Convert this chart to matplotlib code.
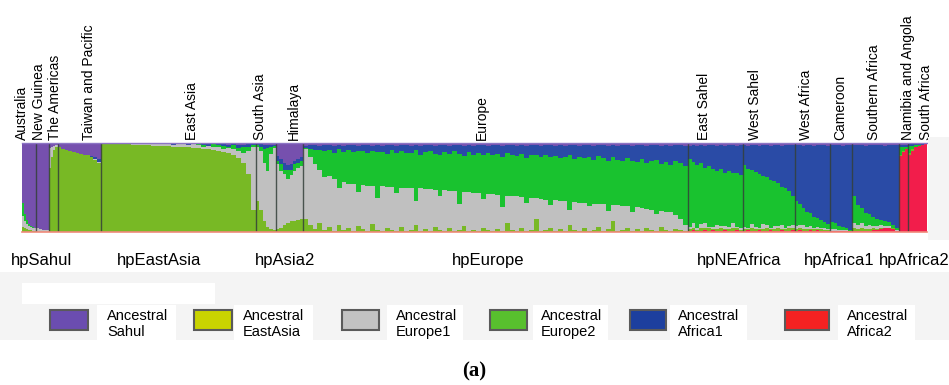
import numpy as np
import matplotlib
matplotlib.use("Agg")
import matplotlib.pyplot as plt
from matplotlib.patches import Rectangle
from matplotlib.transforms import blended_transform_factory

# ancestral components, stacked bottom -> top
components = ["africa2", "eastasia", "europe1", "europe2", "africa1", "sahul"]
bar_colors = {"africa2": "#f21d4b", "eastasia": "#78b925", "europe1": "#c0c0c0",
              "europe2": "#19c22f", "africa1": "#2a4ba6", "sahul": "#7650ae"}

legend_names = ["Ancestral\nSahul", "Ancestral\nEastAsia", "Ancestral\nEurope1",
                "Ancestral\nEurope2", "Ancestral\nAfrica1", "Ancestral\nAfrica2"]
legend_colors = ["#6b4db0", "#c9d300", "#c2c2c2", "#58c02e", "#1d3f9e", "#f42222"]

regions = ["Australia", "New Guinea", "The Americas", "Taiwan and Pacific", "East Asia",
           "South Asia", "Himalaya", "Europe", "East Sahel", "West Sahel", "West Africa",
           "Cameroon", "Southern Africa", "Namibia and Angola", "South Africa"]
region_sizes = [14, 13, 9, 43, 155, 20, 27, 384, 55, 52, 35, 22, 47, 9, 19]

group_labels = ["hpSahul", "hpEastAsia", "hpAsia2", "hpEurope", "hpNEAfrica", "hpAfrica1", "hpAfrica2"]

# ---- per-region ancestry fractions (one value per sampled strain) ----
aus_eastasia = [0.06, 0.04, 0.03, 0.02, 0.02, 0.01, 0.01]
aus_europe1 = [0.12, 0.08, 0.06, 0.05, 0.04, 0.04, 0.03]
aus_europe2 = [0.15, 0.08, 0.04, 0.02, 0.01, 0.01, 0.0]

ng_europe1 = [0.05, 0.03, 0.02, 0.02]

am_europe1 = [0.22, 0.12, 0.05, 0.02]
am_sahul = [0.06, 0.04, 0.03, 0.02]

tw_sahul = [0.05, 0.07, 0.08, 0.09, 0.10, 0.11, 0.12, 0.13, 0.14, 0.15, 0.16, 0.18]
tw_africa1 = [0, 0, 0, 0, 0, 0, 0, 0, 0, 0.01, 0.02, 0.03]
tw_europe1 = [0, 0, 0, 0, 0, 0, 0, 0, 0, 0, 0.01, 0.02]

ea_eastasia = [0.99, 0.99, 0.99, 0.99, 0.985, 0.985, 0.98, 0.98, 0.98, 0.975, 0.97,
               0.97, 0.965, 0.965, 0.96, 0.955, 0.955, 0.95, 0.945, 0.94, 0.935,
               0.93, 0.925, 0.915, 0.90, 0.89, 0.87, 0.83, 0.78, 0.65, 0.25]
ea_europe2 = [0, 0, 0, 0, 0, 0, 0, 0, 0, 0, 0, 0, 0, 0, 0, 0, 0, 0, 0, 0.01, 0.02,
              0, 0.03, 0.02, 0.04, 0.01, 0.05, 0.03, 0.07, 0.05, 0.02]
ea_africa1 = [0, 0, 0, 0, 0, 0, 0, 0, 0.005, 0, 0, 0.01, 0, 0, 0.01, 0, 0, 0.01, 0, 0,
              0.01, 0.02, 0, 0.01, 0.02, 0.03, 0.01, 0.04, 0.02, 0.03, 0.01]
ea_sahul = [0.005, 0.005, 0.01, 0.005, 0.01, 0.005, 0.01, 0.01, 0.005, 0.01, 0.01,
            0.005, 0.01, 0.01, 0.01, 0.01, 0.005, 0.01, 0.01, 0.01, 0.01, 0.01, 0.01,
            0.01, 0.01, 0.02, 0.01, 0.02, 0.02, 0.01, 0.01]

sa_eastasia = [0.35, 0.25, 0.12, 0.06, 0.03, 0.02]
sa_europe2 = [0.02, 0.05, 0.15, 0.25, 0.08, 0.03]
sa_africa1 = [0.01, 0.03, 0.05, 0.04, 0.02, 0.01]
sa_sahul = [0.01, 0.01, 0.02, 0.02, 0.02, 0.02]

him_eastasia = [0.03, 0.05, 0.08, 0.10, 0.12, 0.12, 0.14, 0.15]
him_europe2 = [0.04, 0.08, 0.05, 0.10, 0.06, 0.08, 0.05, 0.06]
him_africa1 = [0.05, 0.06, 0.08, 0.05, 0.06, 0.04, 0.05, 0.04]
him_sahul = [0.15, 0.18, 0.22, 0.25, 0.24, 0.20, 0.18, 0.16]

eu_eastasia = [0.15, 0.08, 0.03, 0.10, 0.02, 0.06, 0.01, 0.08, 0.02, 0.05,
               0.01, 0.07, 0.03, 0.01, 0.09, 0.02, 0.01, 0.05, 0.02, 0.01,
               0.06, 0.01, 0.02, 0.08, 0.01, 0.03, 0.01, 0.06, 0.02, 0.01,
               0.04, 0.01, 0.02, 0.07, 0.01, 0.02, 0.01, 0.05, 0.02, 0.01,
               0.03, 0.01, 0.10, 0.02, 0.01, 0.04, 0.01, 0.02, 0.15, 0.01,
               0.02, 0.05, 0.01, 0.03, 0.01, 0.08, 0.02, 0.01, 0.04, 0.01,
               0.02, 0.06, 0.01, 0.03, 0.12, 0.01, 0.02, 0.05, 0.01, 0.03,
               0.01, 0.04, 0.02, 0.01, 0.06, 0.02, 0.01, 0.03, 0.02, 0.01]
eu_europe1 = [0.78, 0.76, 0.73, 0.60, 0.60, 0.57, 0.58, 0.42, 0.54, 0.49,
              0.53, 0.38, 0.50, 0.51, 0.43, 0.36, 0.51, 0.46, 0.49, 0.43,
              0.44, 0.49, 0.47, 0.27, 0.48, 0.45, 0.47, 0.41, 0.38, 0.46,
              0.42, 0.45, 0.30, 0.38, 0.44, 0.42, 0.43, 0.32, 0.41, 0.42,
              0.39, 0.27, 0.31, 0.38, 0.39, 0.35, 0.32, 0.36, 0.23, 0.36,
              0.34, 0.25, 0.35, 0.32, 0.34, 0.17, 0.32, 0.32, 0.29, 0.28,
              0.30, 0.26, 0.30, 0.21, 0.18, 0.29, 0.27, 0.24, 0.21, 0.25,
              0.26, 0.22, 0.23, 0.19, 0.18, 0.21, 0.21, 0.16, 0.13, 0.07]
eu_africa1 = [0.03, 0.05, 0.06, 0.05, 0.07, 0.06, 0.08, 0.05, 0.07, 0.06,
              0.08, 0.06, 0.07, 0.09, 0.06, 0.08, 0.07, 0.10, 0.06, 0.08,
              0.07, 0.09, 0.08, 0.06, 0.10, 0.08, 0.07, 0.09, 0.11, 0.08,
              0.09, 0.07, 0.10, 0.12, 0.08, 0.10, 0.09, 0.11, 0.08, 0.12,
              0.10, 0.13, 0.09, 0.11, 0.12, 0.10, 0.14, 0.11, 0.12, 0.13,
              0.11, 0.14, 0.12, 0.15, 0.13, 0.12, 0.16, 0.13, 0.15, 0.14,
              0.16, 0.13, 0.15, 0.17, 0.14, 0.16, 0.18, 0.15, 0.17, 0.19,
              0.16, 0.20, 0.18, 0.17, 0.21, 0.19, 0.22, 0.18, 0.20, 0.23]
eu_sahul = [0.03, 0.02, 0.02, 0.03, 0.02, 0.02, 0.03, 0.02, 0.03, 0.02,
            0.02, 0.03, 0.02, 0.02, 0.03, 0.02, 0.03, 0.02, 0.02, 0.03,
            0.02, 0.02, 0.03, 0.02, 0.03, 0.02, 0.02, 0.03, 0.02, 0.02,
            0.03, 0.02, 0.02, 0.03, 0.02, 0.03, 0.02, 0.02, 0.03, 0.02,
            0.02, 0.03, 0.02, 0.02, 0.03, 0.02, 0.03, 0.02, 0.02, 0.03,
            0.02, 0.02, 0.03, 0.02, 0.03, 0.02, 0.02, 0.03, 0.02, 0.02,
            0.03, 0.02, 0.02, 0.03, 0.02, 0.03, 0.02, 0.02, 0.03, 0.02,
            0.02, 0.03, 0.02, 0.02, 0.03, 0.02, 0.03, 0.02, 0.02, 0.03]

es_africa2 = [0.01, 0.02, 0.01, 0.01, 0.02, 0.01, 0.02, 0.01, 0.01, 0.02, 0.01, 0.01, 0.02, 0.01]
es_eastasia = [0.02, 0.03, 0.01, 0.04, 0.02, 0.03, 0.01, 0.02, 0.04, 0.01, 0.02, 0.03, 0.02, 0.01]
es_europe1 = [0.03, 0.05, 0.02, 0.04, 0.06, 0.02, 0.03, 0.05, 0.02, 0.04, 0.03, 0.06, 0.02, 0.03]
es_africa1 = [0.15, 0.19, 0.22, 0.21, 0.25, 0.24, 0.27, 0.29, 0.27, 0.31, 0.30, 0.32, 0.31, 0.34]
es_sahul = [0.03, 0.02, 0.03, 0.02, 0.03, 0.02, 0.02, 0.03, 0.02, 0.03, 0.02, 0.02, 0.03, 0.02]

ws_africa2 = [0.01, 0.02, 0.01, 0.01, 0.02, 0.01, 0.01, 0.02, 0.01, 0.01, 0.02, 0.01, 0.01, 0.02]
ws_eastasia = [0.02, 0.01, 0.03, 0.02, 0.01, 0.02, 0.04, 0.01, 0.02, 0.03, 0.01, 0.02, 0.03, 0.02]
ws_europe1 = [0.03, 0.02, 0.05, 0.03, 0.02, 0.06, 0.03, 0.02, 0.04, 0.03, 0.05, 0.02, 0.03, 0.04]
ws_africa1 = [0.23, 0.26, 0.28, 0.31, 0.32, 0.35, 0.36, 0.39, 0.41, 0.43, 0.46, 0.48, 0.52, 0.58]
ws_sahul = [0.02, 0.03, 0.02, 0.02, 0.03, 0.02, 0.02, 0.03, 0.02, 0.02, 0.03, 0.02, 0.02, 0.02]

wa_africa2 = [0.01, 0.02, 0.01, 0.01, 0.02, 0.01, 0.02, 0.01, 0.01, 0.01]
wa_eastasia = [0.02, 0.03, 0.02, 0.02, 0.01, 0.02, 0.01, 0.02, 0.01, 0.01]
wa_europe1 = [0.04, 0.03, 0.05, 0.03, 0.04, 0.02, 0.03, 0.02, 0.02, 0.01]
wa_europe2 = [0.28, 0.24, 0.19, 0.16, 0.14, 0.12, 0.10, 0.08, 0.07, 0.06]
wa_sahul = [0.02, 0.02, 0.03, 0.02, 0.02, 0.03, 0.02, 0.02, 0.02, 0.03]

cam_africa2 = [0.01, 0.01, 0.01, 0.01, 0.01, 0.01]
cam_europe1 = [0.02, 0.02, 0.01, 0.01, 0.01, 0.0]
cam_europe2 = [0.08, 0.07, 0.05, 0.04, 0.02, 0.01]
cam_sahul = [0.02, 0.02, 0.02, 0.03, 0.02, 0.02]

saf_africa2 = [0.01, 0.01, 0.01, 0.01, 0.01, 0.02, 0.02, 0.03, 0.04, 0.04, 0.03, 0.01]
saf_eastasia = [0.03, 0.02, 0.03, 0.02, 0.02, 0.02, 0.01, 0.02, 0.01, 0.01, 0.01, 0.0]
saf_europe1 = [0.06, 0.05, 0.06, 0.04, 0.05, 0.03, 0.04, 0.03, 0.02, 0.02, 0.01, 0.01]
saf_europe2 = [0.30, 0.22, 0.17, 0.14, 0.12, 0.10, 0.08, 0.06, 0.05, 0.04, 0.03, 0.02]
saf_sahul = [0.02, 0.02, 0.02, 0.03, 0.02, 0.02, 0.02, 0.02, 0.03, 0.02, 0.02, 0.02]

nam_eastasia = [0.02, 0.01, 0.0]
nam_europe2 = [0.08, 0.05, 0.03]
nam_africa1 = [0.03, 0.02, 0.02]
nam_sahul = [0.02, 0.02, 0.02]

sar_eastasia = [0.03, 0.02, 0.01, 0.0, 0.0, 0.0]
sar_europe2 = [0.08, 0.04, 0.02, 0.01, 0.0, 0.0]
sar_africa1 = [0.02, 0.02, 0.01, 0.01, 0.01, 0.0]
sar_sahul = [0.01, 0.01, 0.01, 0.01, 0.01, 0.01]

# (fill component = remainder up to 1, given components)
region_q = [
    ("sahul", {"eastasia": aus_eastasia, "europe1": aus_europe1, "europe2": aus_europe2}),
    ("sahul", {"europe1": ng_europe1}),
    ("eastasia", {"europe1": am_europe1, "sahul": am_sahul}),
    ("eastasia", {"europe1": tw_europe1, "africa1": tw_africa1, "sahul": tw_sahul}),
    ("europe1", {"eastasia": ea_eastasia, "europe2": ea_europe2, "africa1": ea_africa1, "sahul": ea_sahul}),
    ("europe1", {"eastasia": sa_eastasia, "europe2": sa_europe2, "africa1": sa_africa1, "sahul": sa_sahul}),
    ("europe1", {"eastasia": him_eastasia, "europe2": him_europe2, "africa1": him_africa1, "sahul": him_sahul}),
    ("europe2", {"eastasia": eu_eastasia, "europe1": eu_europe1, "africa1": eu_africa1, "sahul": eu_sahul}),
    ("europe2", {"africa2": es_africa2, "eastasia": es_eastasia, "europe1": es_europe1, "africa1": es_africa1, "sahul": es_sahul}),
    ("europe2", {"africa2": ws_africa2, "eastasia": ws_eastasia, "europe1": ws_europe1, "africa1": ws_africa1, "sahul": ws_sahul}),
    ("africa1", {"africa2": wa_africa2, "eastasia": wa_eastasia, "europe1": wa_europe1, "europe2": wa_europe2, "sahul": wa_sahul}),
    ("africa1", {"africa2": cam_africa2, "europe1": cam_europe1, "europe2": cam_europe2, "sahul": cam_sahul}),
    ("africa1", {"africa2": saf_africa2, "eastasia": saf_eastasia, "europe1": saf_europe1, "europe2": saf_europe2, "sahul": saf_sahul}),
    ("africa2", {"eastasia": nam_eastasia, "europe2": nam_europe2, "africa1": nam_africa1, "sahul": nam_sahul}),
    ("africa2", {"eastasia": sar_eastasia, "europe2": sar_europe2, "africa1": sar_africa1, "sahul": sar_sahul}),
]

# layout (figure pixels / data units)
label_x = [0, 17, 33.5, 67.5, 170, 238.5, 272, 460, 681, 732.5, 783.5, 817.5, 851.5, 885.5, 903.5]
group_x = [20, 137, 263, 466, 716, 816, 891]
swatch_px = [(50, 88), (194, 232), (342, 379), (490, 527), (630, 666), (785, 829)]
text_px = [107, 243, 396, 541, 678, 847]
labelbox_px = [(97, 176), (234, 313), (387, 463), (533, 608), (670, 747), (838, 915)]

W, H = 949, 385
plt.rcParams['font.family'] = ['Liberation Sans', 'DejaVu Sans']
fig = plt.figure(figsize=(W / 100, H / 100), dpi=100)


def fx(px):
    return px / W


def fy(py):
    return 1 - py / H


# light grey panels behind legend and right of the strip
fig.patches.append(Rectangle((0, fy(340)), 1, fy(272) - fy(340), transform=fig.transFigure,
                             facecolor="#f4f4f4", edgecolor="none", zorder=0))
fig.patches.append(Rectangle((fx(928), fy(240)), fx(21), fy(137) - fy(240), transform=fig.transFigure,
                             facecolor="#f4f4f4", edgecolor="none", zorder=0))
fig.patches.append(Rectangle((fx(22), fy(304)), fx(193), fy(283) - fy(304), transform=fig.transFigure,
                             facecolor="white", edgecolor="none", zorder=1))

ax = fig.add_axes([fx(21.5), fy(232), fx(905.5), fy(143) - fy(232)])

starts = np.concatenate([[0], np.cumsum(region_sizes)])
for r, (fill, comps) in enumerate(region_q):
    n = len(next(iter(comps.values())))
    q = np.zeros((n, len(components)))
    for c, vals in comps.items():
        q[:, components.index(c)] = vals
    q[:, components.index(fill)] = np.clip(1 - q.sum(axis=1), 0, None)
    w = region_sizes[r] / n
    x = starts[r] + np.arange(n) * w
    bottom = np.zeros(n)
    for k, c in enumerate(components):
        ax.bar(x, q[:, k], width=w * 1.02, bottom=bottom, align="edge", color=bar_colors[c],
               linewidth=0, antialiased=False)
        bottom += q[:, k]

ax.vlines(starts[1:-1], 0, 1, color="#34403a", linewidth=1.0, alpha=0.85)
ax.set_xlim(0, starts[-1])
ax.set_ylim(0, 1)
ax.set_xticks([])
ax.set_yticks([])
for s in ["left", "right"]:
    ax.spines[s].set_visible(False)
ax.spines["top"].set_color("#8c74c4")
ax.spines["top"].set_linewidth(1.0)
ax.spines["bottom"].set_color("#f08a7a")
ax.spines["bottom"].set_linewidth(1.2)

for name, lx in zip(regions, label_x):
    ax.text(lx, 1.035, name, rotation=90, ha="center", va="bottom", fontsize=10,
            transform=ax.get_xaxis_transform())

group_tr = blended_transform_factory(ax.transData, fig.transFigure)
for name, gx in zip(group_labels, group_x):
    ax.text(gx, fy(260.5), name, ha="center", va="center", fontsize=12, transform=group_tr)

for i in range(len(legend_names)):
    bx0, bx1 = labelbox_px[i]
    fig.patches.append(Rectangle((fx(bx0), fy(340)), fx(bx1 - bx0), fy(305) - fy(340),
                                 transform=fig.transFigure, facecolor="white",
                                 edgecolor="none", zorder=1))
    sx0, sx1 = swatch_px[i]
    fig.patches.append(Rectangle((fx(sx0), fy(330)), fx(sx1 - sx0), fy(310) - fy(330),
                                 transform=fig.transFigure, facecolor=legend_colors[i],
                                 edgecolor="#5a5a5a", linewidth=1.5, zorder=2))
    fig.text(fx(text_px[i]), fy(324), legend_names[i], ha="left", va="center", fontsize=10.5,
             linespacing=1.1, zorder=3)

fig.text(0.5, fy(371), "(a)", ha="center", va="center", fontsize=15, fontweight="bold",
         family=['Liberation Serif', 'DejaVu Serif'])

fig.savefig("out.png", dpi=100)
